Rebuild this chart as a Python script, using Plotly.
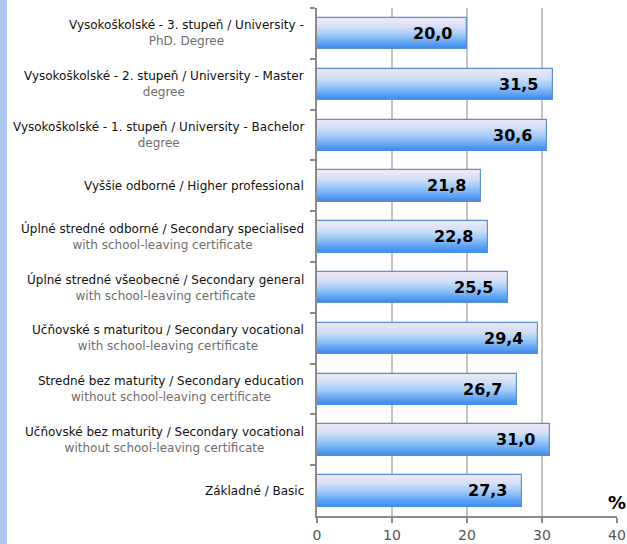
import plotly.graph_objects as go

# Data (top to bottom)
line1 = [
    "Vysokoškolské - 3. stupeň / University -",
    "Vysokoškolské - 2. stupeň / University - Master",
    "Vysokoškolské - 1. stupeň / University - Bachelor",
    "Vyššie odborné / Higher professional",
    "Úplné stredné odborné / Secondary specialised",
    "Úplné stredné všeobecné / Secondary general",
    "Učňovské s maturitou / Secondary vocational",
    "Stredné bez maturity / Secondary education",
    "Učňovské bez maturity / Secondary vocational",
    "Základné / Basic",
]
line2 = [
    "PhD. Degree",
    "degree",
    "degree",
    "",
    "with school-leaving certificate",
    "with school-leaving certificate",
    "with school-leaving certificate",
    "without school-leaving certificate",
    "without school-leaving certificate",
    "",
]
values = [20.0, 31.5, 30.6, 21.8, 22.8, 25.5, 29.4, 26.7, 31.0, 27.3]
x_ticks = [0, 10, 20, 30, 40]
unit_label = "%"

cats = [f"c{i}" for i in range(len(values))]

def hex2rgb(h):
    h = h.lstrip("#")
    return tuple(int(h[i:i + 2], 16) for i in (0, 2, 4))

stops = [(0.0, "#f2e8f5"), (0.3, "#d2e0f6"), (0.55, "#a0cbf8"), (1.0, "#3a8af0")]

def color_at(t):
    for (t0, c0), (t1, c1) in zip(stops[:-1], stops[1:]):
        if t <= t1:
            f = (t - t0) / (t1 - t0) if t1 > t0 else 0
            a, b = hex2rgb(c0), hex2rgb(c1)
            return "rgb(%d,%d,%d)" % tuple(round(a[k] + (b[k] - a[k]) * f) for k in range(3))
    return stops[-1][1]

fig = go.Figure()
W = 0.61
N = 30
for i in range(N):
    t = (i + 0.5) / N
    fig.add_trace(go.Bar(
        y=cats, x=values, orientation="h",
        width=W / N + 0.002, offset=-W / 2 + i * W / N,
        marker=dict(color=color_at(t), line=dict(width=0)),
        hoverinfo="skip", showlegend=False,
    ))
# outline
fig.add_trace(go.Bar(
    y=cats, x=values, orientation="h", width=W,
    marker=dict(color="rgba(0,0,0,0)", line=dict(color="#5b8fd6", width=1.2)),
    showlegend=False,
))

annotations = []
for c, v in zip(cats, values):
    annotations.append(dict(
        x=v, y=c, xref="x", yref="y", xanchor="right", yanchor="middle",
        xshift=-13, showarrow=False,
        text=f"{v:.1f}".replace(".", ","),
        font=dict(family="DejaVu Sans", size=16, color="#000000", weight="bold"),
    ))
for c, a, b in zip(cats, line1, line2):
    txt = a if not b else f"{a}<br><span style='color:#6e6e6e'>{b}</span>"
    annotations.append(dict(
        x=0, y=c, xref="paper", yref="y", xanchor="right", yanchor="middle",
        xshift=-11, showarrow=False, align="center", text=txt,
        font=dict(family="DejaVu Sans", size=12, color="#111111"),
    ))
annotations.append(dict(
    x=40, y=0, xref="x", yref="paper", xanchor="center", yanchor="bottom",
    yshift=1, showarrow=False, text=unit_label,
    font=dict(family="DejaVu Sans", size=18, color="#000000", weight="bold"),
))

fig.update_layout(
    width=627, height=544,
    margin=dict(l=317, r=10, t=8, b=28, autoexpand=False),
    barmode="overlay", bargap=0,
    plot_bgcolor="white", paper_bgcolor="white",
    annotations=annotations,
    shapes=[dict(type="rect", xref="paper", yref="paper",
                 x0=-317 / 300, x1=-310 / 300, y0=-28 / 508, y1=1 + 8 / 508,
                 fillcolor="#a9c6ec", line=dict(width=0), layer="below")],
    xaxis=dict(
        range=[0, 40], tickvals=x_ticks, ticktext=[str(t) for t in x_ticks],
        showgrid=True, gridcolor="#c4c4c4", gridwidth=1.5,
        showline=True, linecolor="#8a8a8a", linewidth=2,
        ticks="outside", ticklen=5, tickcolor="#8a8a8a", tickwidth=1.5,
        tickfont=dict(family="DejaVu Sans", size=14, color="#555555"),
        zeroline=False, fixedrange=True, automargin=False,
    ),
    yaxis=dict(
        type="category", categoryorder="array", categoryarray=cats,
        autorange="reversed", showticklabels=False,
        showline=True, linecolor="#8a8a8a", linewidth=2,
        ticks="outside", ticklen=5, tickcolor="#8a8a8a", tickwidth=1.5,
        tickson="boundaries", showgrid=False, zeroline=False, automargin=False,
    ),
)

fig.write_html("out.html", config={"displayModeBar": False},
               post_script="document.body.style.margin='0';")
